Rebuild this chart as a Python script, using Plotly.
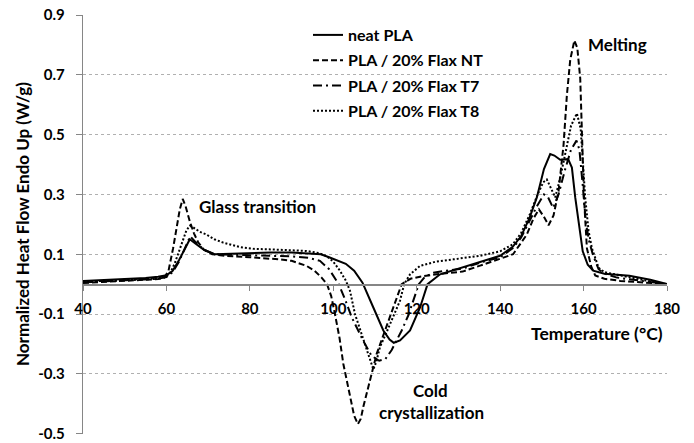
import plotly.graph_objects as go

# ---- data ----
neat_x = [40, 45, 50, 55, 58, 60, 61.5, 63, 64.5, 65.6, 67, 69, 71.5, 75, 80, 85, 90, 95, 97, 99, 101, 103, 105, 107,
          109.6, 112, 113.5, 114.5, 116, 117.3, 118.4, 120.8, 122.6, 125.6, 130, 135, 140, 143, 145, 147, 148.8, 150.5,
          152, 153, 154.4, 156.3, 157.2, 158, 159, 159.8, 161, 162.3, 165, 171, 176, 180]
neat_y = [0.011, 0.014, 0.017, 0.021, 0.025, 0.03, 0.045, 0.08, 0.12, 0.15, 0.135, 0.115, 0.1, 0.102, 0.105, 0.106,
          0.106, 0.103, 0.1, 0.09, 0.08, 0.068, 0.045, 0.005, -0.078, -0.155, -0.185, -0.196, -0.188, -0.17, -0.155,
          -0.078, 0.0, 0.033, 0.052, 0.075, 0.095, 0.125, 0.16, 0.22, 0.29, 0.385, 0.435, 0.43, 0.416, 0.418, 0.39,
          0.29, 0.18, 0.11, 0.065, 0.045, 0.035, 0.028, 0.015, 0.0]

nt_x = [40, 45, 50, 55, 58, 59.5, 60.5, 61.6, 62.4, 63.2, 63.9, 64.6, 65.6, 66.6, 67.6, 69, 71, 74, 80, 84, 87, 90,
        93.6, 95.5, 97.2, 98.5, 99.5, 100.4, 101.5, 102.4, 104, 105, 105.9, 106.6, 107.2, 108.8, 110.4, 112.4, 114.8,
        116.4, 118.5, 120.8, 124.8, 131, 135.2, 140, 143.1, 146.4, 148, 149.3, 150.5, 151.6, 152.8, 154, 155.2, 156,
        156.8, 157.8, 158.5, 159.2, 159.6, 160.1, 160.8, 161.8, 162.8, 165, 168.8, 175.2, 180]
nt_y = [0.004, 0.007, 0.01, 0.013, 0.017, 0.022, 0.045, 0.12, 0.19, 0.25, 0.285, 0.26, 0.21, 0.17, 0.14, 0.115, 0.1,
        0.095, 0.09, 0.087, 0.083, 0.078, 0.061, 0.045, 0.022, 0.0, -0.04, -0.1, -0.18, -0.266, -0.377, -0.44, -0.468,
        -0.45, -0.41, -0.321, -0.233, -0.155, -0.061, 0.0, 0.018, 0.025, 0.033, 0.042, 0.062, 0.085, 0.1, 0.166, 0.22,
        0.25, 0.225, 0.197, 0.23, 0.31, 0.466, 0.632, 0.75, 0.815, 0.79, 0.688, 0.52, 0.288, 0.12, 0.06, 0.029,
        0.018, 0.011, 0.006, 0.0]

t7_x = [40, 45, 50, 55, 58, 60, 61.5, 63, 64.5, 65.7, 67, 69, 71.5, 75, 80, 85, 90, 94, 96.8, 99, 101.3, 102.8,
        104.4, 107.2, 109.2, 111, 112.5, 114, 116.4, 118, 119.3, 120.5, 122, 124, 127, 131, 135.2, 140, 143, 145,
        147, 148.8, 150.5, 151.5, 152.7, 154, 155.5, 157, 158.3, 159, 159.8, 160.6, 161.4, 162.2, 163.6, 165, 168,
        175, 180]
t7_y = [0.006, 0.009, 0.012, 0.015, 0.018, 0.024, 0.04, 0.075, 0.12, 0.16, 0.14, 0.115, 0.1, 0.099, 0.097, 0.095,
        0.093, 0.088, 0.078, 0.05, 0.0, -0.05, -0.11, -0.19, -0.24, -0.256, -0.25, -0.22, -0.155, -0.104, -0.05, 0.0,
        0.025, 0.038, 0.045, 0.052, 0.072, 0.09, 0.12, 0.155, 0.21, 0.26, 0.3, 0.29, 0.255, 0.3, 0.38, 0.45, 0.48,
        0.45, 0.33, 0.2, 0.14, 0.1, 0.05, 0.035, 0.022, 0.008, 0.0]

t8_x = [40, 45, 50, 55, 58, 60, 61, 62, 63, 64, 64.8, 65.6, 66.4, 68, 69.6, 71.5, 73.6, 77.6, 81, 85.6, 90, 93.6,
        96.5, 98.4, 100, 101.6, 103, 104, 105.2, 106.4, 107.6, 108.5, 109.6, 110.3, 111.2, 112.8, 114.4, 116, 117,
        118.4, 120.8, 124.5, 128.8, 132.5, 135.2, 140, 143, 145, 147, 149, 150.3, 151.2, 152.2, 153.2, 154.4, 155.6,
        157, 158.4, 159.3, 160.4, 161.2, 162, 163.6, 165, 170, 175, 180]
t8_y = [0.008, 0.011, 0.014, 0.017, 0.02, 0.025, 0.04, 0.07, 0.11, 0.15, 0.18, 0.195, 0.19, 0.175, 0.166, 0.15,
        0.139, 0.124, 0.118, 0.116, 0.113, 0.111, 0.104, 0.094, 0.075, 0.045, 0.012, -0.022, -0.1, -0.15, -0.2,
        -0.24, -0.285, -0.26, -0.21, -0.16, -0.11, -0.055, 0.0, 0.033, 0.061, 0.075, 0.083, 0.09, 0.095, 0.11, 0.133,
        0.17, 0.23, 0.3, 0.34, 0.35, 0.32, 0.29, 0.355, 0.44, 0.53, 0.571, 0.52, 0.288, 0.178, 0.12, 0.055, 0.04,
        0.025, 0.012, 0.0]

series_names = ["neat PLA", "PLA / 20% Flax NT", "PLA / 20% Flax T7", "PLA / 20% Flax T8"]
x_ticks = [40, 60, 80, 100, 120, 140, 160, 180]
y_ticks = [-0.5, -0.3, -0.1, 0.1, 0.3, 0.5, 0.7, 0.9]
y_tick_text = ["-0.5", "-0.3", "-0.1", "0.1", "0.3", "0.5", "0.7", "0.9"]

FONT = "Lato"


def bold(size):
    return dict(family=FONT, size=size, color="black", weight="bold")


styles = [
    dict(color="black", width=2, dash="solid"),
    dict(color="black", width=2, dash="6px,3px"),
    dict(color="black", width=2, dash="9px,4px,2px,4px"),
    dict(color="black", width=2, dash="2px,2px"),
]

fig = go.Figure()
for i, (name, xs, ys, st) in enumerate(zip(series_names, [neat_x, nt_x, t7_x, t8_x],
                                           [neat_y, nt_y, t7_y, t8_y], styles)):
    fig.add_trace(go.Scatter(x=xs, y=ys, mode="lines", name=name, line=st, legendgroup=f"g{i}",
                             hoverinfo="skip"))

L, R, T, B = 83, 27, 15, 9
W, H = 694, 443
pw, ph = W - L - R, H - T - B


def px(xp):
    return (xp - L) / pw


def py(yp):
    return (H - B - yp) / ph


fig.update_layout(
    width=W, height=H,
    margin=dict(l=L, r=R, t=T, b=B, autoexpand=False),
    paper_bgcolor="white", plot_bgcolor="white",
    showlegend=True,
    legend=dict(x=px(308), y=py(18), xanchor="left", yanchor="top", font=bold(16),
                bgcolor="rgba(0,0,0,0)", borderwidth=0, tracegroupgap=1.5, traceorder="grouped"),
    xaxis=dict(range=[40, 180], tickvals=x_ticks, ticktext=[str(v) for v in x_ticks],
               showgrid=False, zeroline=False, showline=True, linecolor="#868686", linewidth=1.3,
               ticks="outside", ticklen=5, tickcolor="#868686", tickfont=bold(15),
               anchor="free", position=0.5 / 1.4, ticklabelstandoff=5, automargin=False),
    yaxis=dict(range=[-0.501, 0.9], tickvals=y_ticks, ticktext=y_tick_text,
               showgrid=True, gridcolor="#b0b0b0", griddash="dot", gridwidth=1,
               zeroline=False, showline=True, linecolor="#868686", linewidth=1.3,
               ticks="outside", ticklen=6, tickcolor="#868686", tickfont=bold(15), ticklabelstandoff=8,
               ticklabeloverflow="allow", automargin=False),
)

annots = [
    ("Glass transition", 257.5, 207, 0, 17),
    ("Melting", 617, 44, 0, 17),
    ("Cold", 430, 390, 0, 17),
    ("crystallization", 431, 412, 0, 17),
    ("Temperature (°C)", 597, 333, 0, 17.5),
    ("Normalized Heat Flow Endo Up (W/g)", 22, 224, -90, 17),
]
for text, xp, yp, ang, sz in annots:
    fig.add_annotation(text=text, x=px(xp), y=py(yp), xref="paper", yref="paper",
                       xanchor="center", yanchor="middle", showarrow=False, textangle=ang,
                       font=bold(sz))

fig.write_html("out.html", config={"displayModeBar": False, "staticPlot": True},
               post_script="document.body.style.margin='0px';document.body.style.padding='0px';"
                           "document.documentElement.style.overflow='hidden';")
